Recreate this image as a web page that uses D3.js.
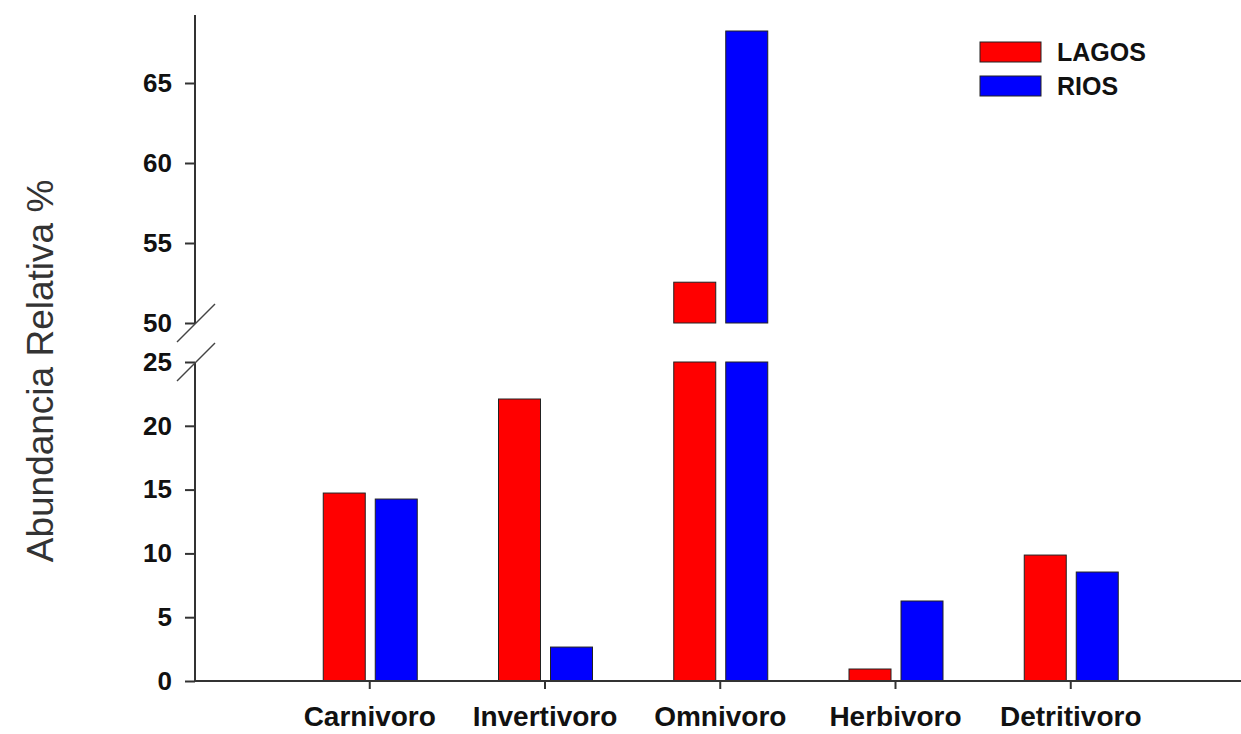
<!DOCTYPE html>
<html><head><meta charset="utf-8">
<script src="https://cdn.jsdelivr.net/npm/d3@7"></script>
<style>body{margin:0;background:#fff}svg{display:block}text{font-family:"Liberation Sans",Arial,sans-serif}</style>
</head><body><svg id="c" width="1241" height="734"></svg>
<script>
const categories = ["Carnivoro","Invertivoro","Omnivoro","Herbivoro","Detritivoro"];
const lagos = [14.73, 22.1, 52.55, 0.94, 9.87];
const rios = [14.26, 2.66, 68.25, 6.27, 8.54];
const seriesNames = ["LAGOS","RIOS"];
const seriesColors = ["#ff0000","#0000ff"];
const lowTicks = [0,5,10,15,20,25];
const highTicks = [50,55,60,65];

const svg = d3.select("#c");
const x = d3.scaleLinear().domain([0,6]).range([194,1245.5]);
const yLow = d3.scaleLinear().domain([0,25]).range([681,362]);
const yHigh = d3.scaleLinear().domain([50,70]).range([323,3]);
const barW = 42;

// bars
const series = [lagos, rios];
series.forEach((vals, si) => {
  vals.forEach((v, ci) => {
    const cx = x(ci+1);
    const x0 = si === 0 ? cx - 46 : cx + 6;
    const lowTop = Math.min(v, 25);
    svg.append("rect").attr("x", x0).attr("width", barW)
      .attr("y", yLow(lowTop)).attr("height", yLow(0) - yLow(lowTop))
      .attr("fill", seriesColors[si]).attr("stroke", "#222").attr("stroke-width", 1);
    if (v > 50) {
      svg.append("rect").attr("x", x0).attr("width", barW)
        .attr("y", yHigh(v)).attr("height", yHigh(50) - yHigh(v))
        .attr("fill", seriesColors[si]).attr("stroke", "#222").attr("stroke-width", 1);
    }
  });
});

// lower y axis
const gLow = svg.append("g").attr("transform","translate(195,0)")
  .call(d3.axisLeft(yLow).tickValues(lowTicks).tickSize(10).tickPadding(13));
// upper y axis
const gHigh = svg.append("g").attr("transform","translate(195,0)")
  .call(d3.axisLeft(yHigh).tickValues(highTicks).tickSize(10).tickPadding(13));
gHigh.select(".domain").attr("d", `M0,${yHigh(69.25)}V${yHigh(50)}`);
gLow.select(".domain").attr("d", `M0,${yLow(25)}V${yLow(0)}`);
[gLow,gHigh].forEach(g=>{
  g.selectAll(".domain").attr("stroke","#333").attr("stroke-width",2);
  g.selectAll(".tick line").attr("stroke","#333").attr("stroke-width",2);
  g.selectAll(".tick text").attr("font-size",26).attr("font-weight","bold").attr("fill","#111")
    .attr("font-family","Liberation Sans, Arial, sans-serif");
});

// break marks
[yHigh(50), yLow(25)].forEach((yy)=>{
  svg.append("line").attr("x1",177).attr("y1",yy+19).attr("x2",215).attr("y2",yy-19)
    .attr("stroke","#444").attr("stroke-width",1.5);
});

// x axis
const gx = svg.append("g").attr("transform",`translate(0,${yLow(0)})`)
  .call(d3.axisBottom(x).tickValues([1,2,3,4,5]).tickFormat((d)=>categories[d-1]).tickSize(8));
gx.select(".domain").attr("d",`M195,0H1241`).attr("stroke","#333").attr("stroke-width",2);
gx.selectAll(".tick line").attr("stroke","#333").attr("stroke-width",2);
gx.selectAll(".tick text").attr("y",45).attr("dy",null).attr("font-size",28).attr("font-weight","bold").attr("fill","#111")
  .attr("font-family","Liberation Sans, Arial, sans-serif");

// y title
svg.append("text").attr("transform","translate(53,371) rotate(-90)").attr("text-anchor","middle")
  .attr("font-size",37).attr("fill","#333").text("Abundancia Relativa %");

// legend
seriesNames.forEach((n,i)=>{
  const ly = 42 + i*34;
  svg.append("rect").attr("x",980).attr("y",ly).attr("width",61).attr("height",20)
    .attr("fill",seriesColors[i]).attr("stroke","#222").attr("stroke-width",1);
  svg.append("text").attr("x",1057).attr("y",ly+19).attr("font-size",25).attr("font-weight","bold")
    .attr("fill","#111").text(n);
});
</script></body></html>
